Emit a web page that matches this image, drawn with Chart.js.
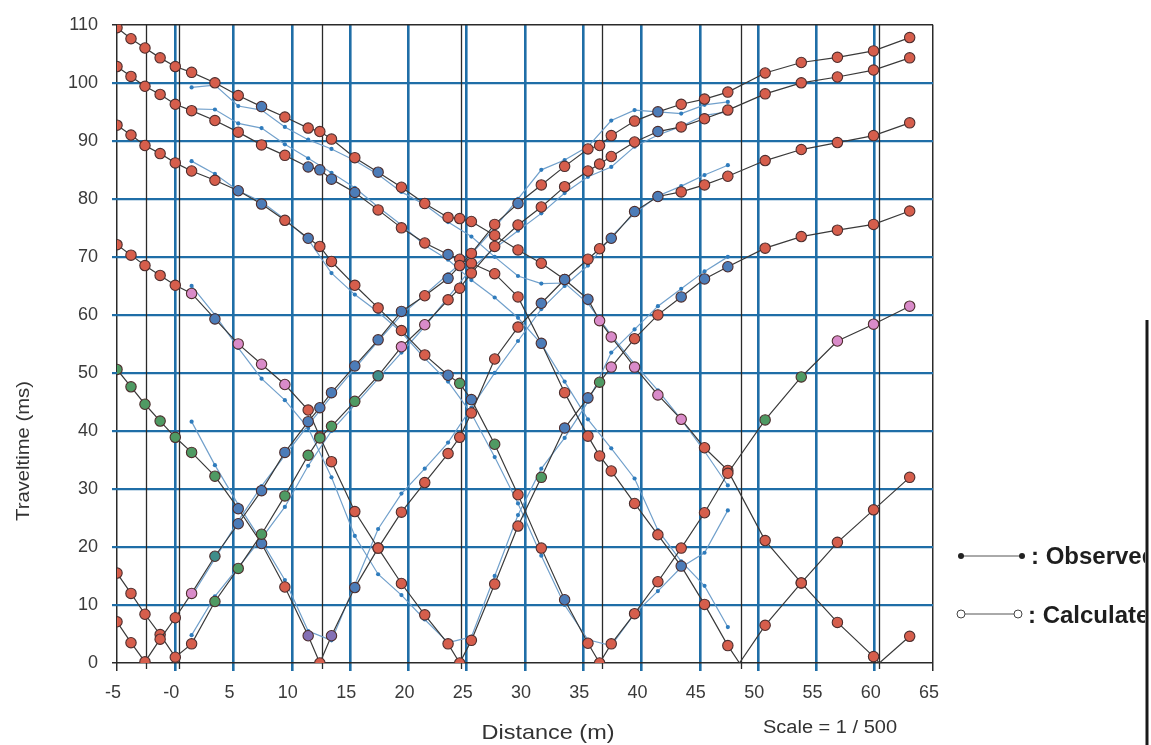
<!DOCTYPE html>
<html>
<head>
<meta charset="utf-8">
<title>Traveltime curves</title>
<script src="https://cdn.jsdelivr.net/npm/chart.js@4.4.1/dist/chart.umd.min.js"></script>
<style>
  html, body { margin: 0; padding: 0; background: #fff; }
  #wrap { position: relative; width: 1151px; height: 745px; }
</style>
</head>
<body>
<div id="wrap"><canvas id="chart" width="1151" height="745"></canvas></div>
<script>
// Receiver positions (m) used by the calculated curves
const calcX = [-5, -3.8, -2.6, -1.3, 0, 1.4, 3.4, 5.4, 7.4, 9.4, 11.4, 12.4, 13.4, 15.4, 17.4, 19.4, 21.4, 23.4, 24.4, 25.4,
    27.4, 29.4, 31.4, 33.4, 35.4, 36.4, 37.4, 39.4, 41.4, 43.4, 45.4, 47.4, 48.4, 50.6, 53.7, 56.8, 59.9, 60.4, 63.0];

// Calculated traveltimes (ms), one array per shot
const calcShotM26 = [7.1, 3.5, 0.2, 4.1, 7.8, 12.0, 18.4, 24.0, 29.7, 36.3, 41.6, 44.0, 46.6, 51.2, 55.7, 60.6, 63.3, 66.3, 68.5, 70.6,
    75.6, 79.2, 82.4, 85.6, 88.6, 89.2, 90.9, 93.4, 95.0, 96.3, 97.2, 98.4, null, 101.7, 103.5, 104.4, 105.5, null, 107.8];
const calcShot0 = [15.5, 12.0, 8.4, 4.9, 1.0, 3.3, 10.6, 16.3, 22.2, 28.8, 35.8, 38.8, 40.8, 45.1, 49.5, 54.5, 58.3, 62.6, 64.6, 67.2,
    71.8, 75.5, 78.6, 82.1, 84.8, 86.0, 87.3, 89.8, 91.6, 92.4, 93.8, 95.3, null, 98.1, 100.0, 101.0, 102.2, null, 104.3];
const calcShot12 = [50.6, 47.6, 44.6, 41.7, 38.9, 36.3, 32.2, 26.6, 20.6, 13.1, 4.7, 0, 4.7, 13.0, 19.8, 26.0, 31.1, 36.1, 38.9, 43.1,
    52.4, 57.9, 62.0, 66.1, 69.6, 71.4, 73.2, 77.8, 80.4, 81.2, 82.4, 83.9, null, 86.6, 88.5, 89.7, 90.9, null, 93.1];
const calcShot24 = [72.1, 70.3, 68.5, 66.8, 65.1, 63.7, 59.3, 55.0, 51.5, 48.0, 43.6, 39.0, 34.7, 26.1, 19.8, 13.7, 8.3, 3.3, 0, 3.9,
    13.6, 23.6, 32.0, 40.5, 45.7, 48.4, 51.0, 55.9, 60.0, 63.1, 66.2, 68.3, null, 71.5, 73.5, 74.6, 75.6, null, 77.9];
const calcShot36 = [92.7, 91.0, 89.2, 87.8, 86.2, 84.8, 83.2, 81.4, 79.1, 76.3, 73.2, 71.8, 69.2, 65.1, 61.2, 57.3, 53.1, 49.6, 48.2, 45.4,
    37.7, 29.0, 19.8, 10.9, 3.4, 0, 3.3, 8.5, 14.0, 19.8, 25.9, 32.7, null, 41.9, 49.3, 55.5, 58.4, null, 61.5];
const calcShot48 = [102.8, 101.1, 99.4, 98.0, 96.3, 95.2, 93.5, 91.5, 89.3, 87.5, 85.5, 85.0, 83.4, 81.1, 78.1, 75.0, 72.4, 70.4, 69.6, 68.9,
    67.1, 63.1, 55.1, 46.6, 39.1, 35.7, 33.1, 27.5, 22.1, 16.7, 10.1, 3.0, 0, 6.5, 13.8, 20.8, 26.4, null, 32.0];
const calcShot60 = [109.5, 107.6, 106.0, 104.3, 102.8, 101.8, 100.0, 97.8, 95.9, 94.1, 92.2, 91.6, 90.3, 87.1, 84.6, 82.0, 79.2, 76.8, 76.6, 76.1,
    73.7, 71.2, 68.9, 66.1, 62.7, 59.0, 56.2, 51.0, 46.2, 42.0, 37.1, 33.2, null, 21.1, 13.8, 7.0, 1.1, 0, 4.6];

// Geophones of the observed picks
const obsX = [1.4, 3.4, 5.4, 7.4, 9.4, 11.4, 13.4, 15.4, 17.4, 19.4, 21.4, 23.4,
    25.4, 27.4, 29.4, 31.4, 33.4, 35.4, 37.4, 39.4, 41.4, 43.4, 45.4, 47.4];

// Observed traveltimes (ms), one array per shot
const obsShotM26 = [11.5, 18.0, 24.5, 30.5, 35.8, 41.0, 46.0, 50.8, 55.5, 60.0, 63.5, 67.0,
    70.5, 75.0, 80.0, 85.0, 86.7, 89.0, 93.5, 95.3, 95.0, 94.7, 96.2, 96.7];
const obsShot0 = [4.8, 11.5, 16.5, 21.5, 26.9, 34.0, 40.0, 44.5, 49.0, 53.5, 58.0, 63.0,
    68.0, 71.5, 74.5, 77.5, 81.0, 83.8, 85.5, 89.0, 91.0, 92.5, 94.4, 95.0];
const obsShot12 = [41.6, 34.1, 27.3, 21.0, 14.3, 5.5, 3.9, 13.5, 23.1, 29.2, 33.5, 38.0,
    44.0, 50.0, 55.5, 61.0, 65.0, 68.5, 73.5, 77.5, 80.5, 82.2, 84.1, 85.8];
const obsShot24 = [65.0, 60.0, 54.3, 49.0, 45.3, 40.5, 32.0, 21.9, 15.3, 11.7, 7.5, 3.5,
    4.5, 15.0, 25.5, 33.5, 38.8, 45.0, 53.5, 57.5, 61.5, 64.5, 67.5, 70.0];
const obsShot36 = [86.5, 84.3, 81.4, 79.5, 76.5, 73.0, 67.2, 63.5, 60.5, 57.0, 52.5, 48.5,
    43.0, 35.5, 27.5, 18.5, 10.0, 4.0, 3.0, 8.5, 12.4, 16.5, 19.0, 26.3];
const obsShot48 = [95.5, 95.4, 93.0, 92.2, 89.4, 87.0, 84.5, 81.9, 78.6, 75.5, 72.0, 69.5,
    66.0, 63.0, 59.5, 55.0, 48.5, 42.0, 37.0, 31.8, 22.9, 17.5, 13.3, 6.2];
const obsShot60 = [99.2, 99.6, 96.0, 95.3, 92.4, 90.2, 88.6, 86.6, 84.2, 81.2, 79.0, 76.0,
    73.5, 70.0, 66.7, 65.4, 65.5, 62.0, 56.5, 51.5, 47.0, 42.0, 36.5, 30.6];

// Shot marks drawn as thin black verticals on the sheet
const shotLineX = [-2.5, 0.3, 12.6, 24.5, 36.6, 48.5, 60.4];

const xTicks = { min: -5, max: 65, step: 5 };
const yTicks = { min: 0, max: 110, step: 10 };

// ---- styling (kept apart from the values) ----
const FONT = '"Liberation Sans", Arial, sans-serif';
const GRID_BLUE = '#1f6ea7';
const INK = '#2a2a2a';
const tint = {
    red: '#d65e4c', blue: '#4c7cb8', pink: '#d98bc9', green: '#4f9a63', teal: '#3e8d8a', purple: '#8470b5'
};
// marker colour ranges per calculated curve: [fromX, toX, colour]
const markerTints = {
    m26: [[1.4, 1.4, 'pink'], [3.4, 3.4, 'teal'], [5.4, 19.4, 'blue'], [23.4, 23.4, 'blue'], [29.4, 29.4, 'blue'], [41.4, 41.4, 'blue']],
    s0: [[3.4, 15.4, 'green'], [17.4, 17.4, 'teal'], [19.4, 21.4, 'pink'], [41.4, 41.4, 'blue']],
    s12: [[-5, 3.4, 'green'], [5.4, 7.4, 'blue'], [11.4, 11.4, 'purple'], [13.4, 13.4, 'purple'], [15.4, 15.4, 'blue'],
        [31.4, 33.4, 'blue'], [37.4, 41.4, 'blue']],
    s24: [[1.4, 1.4, 'pink'], [3.4, 3.4, 'blue'], [5.4, 9.4, 'pink'], [31.4, 31.4, 'green'], [33.4, 35.4, 'blue'],
        [36.4, 36.4, 'green'], [37.4, 37.4, 'pink'], [43.4, 47.4, 'blue']],
    s36: [[5.4, 7.4, 'blue'], [11.4, 11.4, 'blue'], [23.4, 23.4, 'blue'], [24.4, 24.4, 'green'], [25.4, 25.4, 'blue'],
        [27.4, 27.4, 'green'], [33.4, 33.4, 'blue'], [50.6, 53.7, 'green'], [56.8, 63, 'pink']],
    s48: [[11.4, 15.4, 'blue'], [23.4, 23.4, 'blue'], [31.4, 31.4, 'blue'], [43.4, 43.4, 'blue']],
    s60: [[7.4, 7.4, 'blue'], [17.4, 17.4, 'blue'], [33.4, 35.4, 'blue'], [36.4, 43.4, 'pink']]
};
// curve vertices that carry no marker on the sheet
const bareVertexX = [48.4, 60.4];

function toPoints(xs, ys) {
    const pts = [];
    xs.forEach((x, i) => {
        if (ys[i] !== null && ys[i] !== undefined) pts.push({ x: x, y: ys[i] });
    });
    return pts;
}

function markerColour(key) {
    return ctx => {
        const p = ctx.raw;
        if (!p) return tint.red;
        const hit = markerTints[key].find(r => p.x >= r[0] - 0.01 && p.x <= r[1] + 0.01);
        return hit ? tint[hit[2]] : tint.red;
    };
}

function calcDataset(key, ys) {
    return {
        label: 'calc ' + key,
        data: toPoints(calcX, ys),
        showLine: true,
        spanGaps: true,
        borderColor: '#3a3a3a',
        borderWidth: 1.2,
        pointRadius: ctx => (ctx.raw && bareVertexX.includes(ctx.raw.x) ? 0 : 5.2),
        pointBackgroundColor: markerColour(key),
        pointBorderColor: '#4e2e2e',
        pointBorderWidth: 1.1,
        order: 0
    };
}

function obsDataset(key, ys) {
    return {
        label: 'obs ' + key,
        data: toPoints(obsX, ys),
        showLine: true,
        borderColor: 'rgba(105,155,200,0.95)',
        borderWidth: 1.2,
        pointRadius: 2.1,
        pointBackgroundColor: '#2f7cbd',
        pointBorderWidth: 0,
        order: 1
    };
}

function fitText(ctx, text, x, y, width, font) {
    ctx.font = font;
    const w = ctx.measureText(text).width;
    ctx.save();
    ctx.translate(x, y);
    ctx.scale(width / w, 1);
    ctx.fillText(text, 0, 0);
    ctx.restore();
}

const sheetPlugin = {
    id: 'sheet',
    beforeDatasetsDraw(chart) {
        const { ctx, chartArea, scales } = chart;
        ctx.save();
        ctx.strokeStyle = INK;
        ctx.lineWidth = 1.3;
        shotLineX.forEach(v => {
            const px = Math.round(scales.x.getPixelForValue(v)) + 0.5;
            ctx.beginPath();
            ctx.moveTo(px, chartArea.top);
            ctx.lineTo(px, chartArea.bottom + 6);
            ctx.stroke();
        });
        ctx.restore();
    },
    afterDraw(chart) {
        const ctx = chart.ctx;
        ctx.save();
        ctx.fillStyle = '#333';
        ctx.textAlign = 'center';
        ctx.textBaseline = 'middle';

        // axis titles
        fitText(ctx, 'Distance (m)', 548, 733, 133, '21px ' + FONT);
        fitText(ctx, 'Scale = 1 / 500', 830, 728, 134, '18px ' + FONT);
        ctx.save();
        ctx.translate(24, 451);
        ctx.rotate(-Math.PI / 2);
        fitText(ctx, 'Traveltime (ms)', 0, 0, 140, '19px ' + FONT);
        ctx.restore();

        // legend, clipped at the sheet edge
        ctx.save();
        ctx.beginPath();
        ctx.rect(940, 520, 205, 120);
        ctx.clip();
        ctx.strokeStyle = '#555';
        ctx.lineWidth = 1;
        ctx.beginPath();
        ctx.moveTo(961, 556); ctx.lineTo(1022, 556);
        ctx.moveTo(965, 614); ctx.lineTo(1014, 614);
        ctx.stroke();
        ctx.fillStyle = '#222';
        [961, 1022].forEach(x => { ctx.beginPath(); ctx.arc(x, 556, 3, 0, Math.PI * 2); ctx.fill(); });
        ctx.fillStyle = '#fff';
        ctx.strokeStyle = '#444';
        [961, 1018].forEach(x => { ctx.beginPath(); ctx.arc(x, 614, 4, 0, Math.PI * 2); ctx.fill(); ctx.stroke(); });
        ctx.fillStyle = '#1e1e1e';
        ctx.textAlign = 'left';
        ctx.textBaseline = 'alphabetic';
        ctx.font = 'bold 24px ' + FONT;
        ctx.fillText(': Observed', 1031, 564);
        ctx.fillText(': Calculated', 1028, 623);
        ctx.restore();

        // scanned sheet edge
        ctx.strokeStyle = '#1a1a1a';
        ctx.lineWidth = 3;
        ctx.beginPath();
        ctx.moveTo(1147, 320);
        ctx.lineTo(1147, 745);
        ctx.stroke();
        ctx.restore();
    }
};

const isEdge = (v, a, b) => v === a || v === b;

new Chart(document.getElementById('chart'), {
    type: 'scatter',
    data: {
        datasets: [
            calcDataset('m26', calcShotM26),
            calcDataset('s0', calcShot0),
            calcDataset('s12', calcShot12),
            calcDataset('s24', calcShot24),
            calcDataset('s36', calcShot36),
            calcDataset('s48', calcShot48),
            calcDataset('s60', calcShot60),
            obsDataset('m26', obsShotM26),
            obsDataset('s0', obsShot0),
            obsDataset('s12', obsShot12),
            obsDataset('s24', obsShot24),
            obsDataset('s36', obsShot36),
            obsDataset('s48', obsShot48),
            obsDataset('s60', obsShot60)
        ]
    },
    options: {
        responsive: false,
        animation: false,
        events: [],
        layout: { autoPadding: false, padding: { top: 24, right: 218, left: 0, bottom: 0 } },
        plugins: { legend: { display: false }, tooltip: { enabled: false } },
        scales: {
            x: {
                type: 'linear',
                min: xTicks.min,
                max: xTicks.max,
                afterFit: s => { s.height = 82; },
                border: { display: false },
                grid: {
                    color: c => isEdge(c.tick.value, xTicks.min, xTicks.max) ? INK : GRID_BLUE,
                    lineWidth: c => isEdge(c.tick.value, xTicks.min, xTicks.max) ? 1.5 : 2.6,
                    tickLength: 8
                },
                ticks: {
                    stepSize: xTicks.step,
                    autoSkip: false,
                    maxRotation: 0,
                    padding: 11,
                    labelOffset: -4,
                    color: '#3a3a3a',
                    font: { family: FONT, size: 18 },
                    callback: v => (v === 0 ? '-0' : String(v))
                }
            },
            y: {
                min: yTicks.min,
                max: yTicks.max,
                afterFit: s => { s.width = 117; },
                border: { display: false },
                grid: {
                    color: c => isEdge(c.tick.value, yTicks.min, yTicks.max) ? INK : GRID_BLUE,
                    lineWidth: c => isEdge(c.tick.value, yTicks.min, yTicks.max) ? 1.5 : 2.2,
                    tickLength: 5
                },
                ticks: {
                    stepSize: yTicks.step,
                    padding: 14,
                    color: '#3a3a3a',
                    font: { family: FONT, size: 18 }
                }
            }
        }
    },
    plugins: [sheetPlugin]
});
</script>
</body>
</html>
